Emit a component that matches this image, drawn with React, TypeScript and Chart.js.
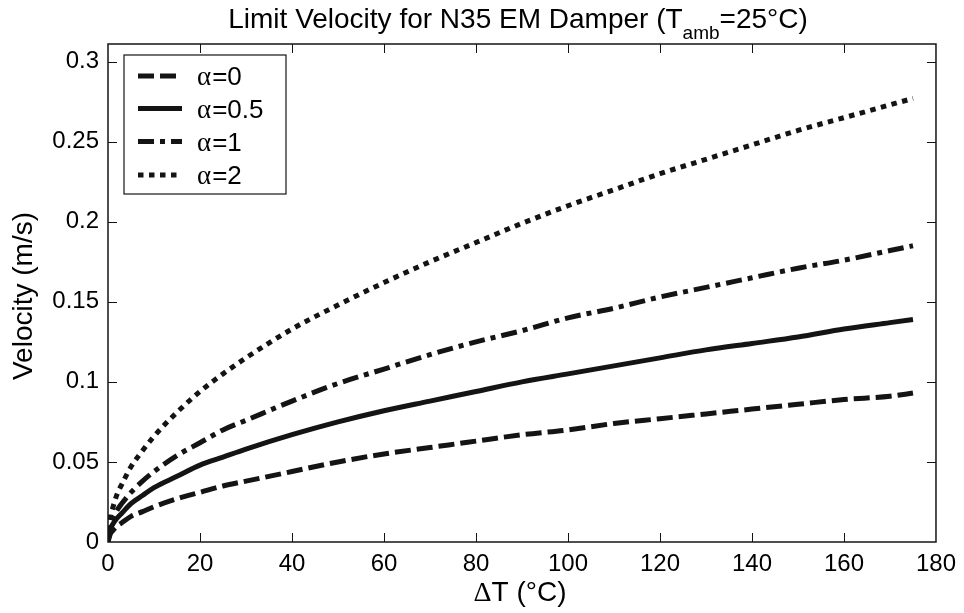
import React, { useEffect, useRef } from "react";
import { Chart, registerables } from "chart.js";

Chart.register(...registerables);

// ---- data ----
const DELTA_T = [0, 0.5, 1, 2, 3, 5, 7.5, 10, 15, 20, 25, 30, 40, 50, 60, 70, 80, 90, 100, 110, 120, 130, 140, 150, 160, 170, 175];
const ALPHA_0 = [0, 0.005, 0.007, 0.010, 0.012, 0.016, 0.019, 0.022, 0.027, 0.031, 0.035, 0.038, 0.044, 0.050, 0.055, 0.059, 0.063, 0.067, 0.070, 0.074, 0.077, 0.080, 0.083, 0.086, 0.089, 0.091, 0.093];
const ALPHA_05 = [0, 0.008, 0.011, 0.015, 0.018, 0.024, 0.029, 0.034, 0.041, 0.048, 0.053, 0.058, 0.067, 0.075, 0.082, 0.088, 0.094, 0.100, 0.105, 0.110, 0.115, 0.120, 0.124, 0.128, 0.133, 0.137, 0.139];
const ALPHA_1 = [0, 0.010, 0.014, 0.020, 0.024, 0.031, 0.038, 0.044, 0.054, 0.062, 0.070, 0.076, 0.088, 0.099, 0.108, 0.117, 0.125, 0.132, 0.140, 0.146, 0.153, 0.159, 0.165, 0.171, 0.176, 0.182, 0.185];
const ALPHA_2 = [0, 0.015, 0.021, 0.030, 0.036, 0.047, 0.057, 0.066, 0.081, 0.094, 0.105, 0.115, 0.133, 0.148, 0.162, 0.175, 0.187, 0.199, 0.210, 0.220, 0.230, 0.239, 0.248, 0.257, 0.265, 0.273, 0.277];

const SERIES_LABELS = ["α=0", "α=0.5", "α=1", "α=2"];
const X_TICKS = [0, 20, 40, 60, 80, 100, 120, 140, 160, 180];
const Y_TICKS = [0, 0.05, 0.1, 0.15, 0.2, 0.25, 0.3];

const TITLE_MAIN = "Limit Velocity for N35 EM Damper (T";
const TITLE_SUB = "amb";
const TITLE_END = "=25°C)";
const X_LABEL_SYMBOL = "Δ";
const X_LABEL_REST = "T (°C)";
const Y_LABEL = "Velocity (m/s)";

const SANS = '"Liberation Sans", Arial, sans-serif';
const SERIF = '"Liberation Serif", "Times New Roman", serif';
const INK = "#141414";

const DASHES = [[16, 6], [], [16, 6, 5, 6], [5.5, 5.5]];
const SERIES = [ALPHA_0, ALPHA_05, ALPHA_1, ALPHA_2];

const decorPlugin = {
  id: "decor",
  afterDraw(chart: any) {
    const ctx = chart.ctx as CanvasRenderingContext2D;
    const { left, right, top, bottom } = chart.chartArea;
    const xs = chart.scales.x;
    const ys = chart.scales.y;
    ctx.save();

    // axes box
    ctx.strokeStyle = INK;
    ctx.lineWidth = 1.5;
    ctx.setLineDash([]);
    ctx.strokeRect(left, top, right - left, bottom - top);

    // inward ticks
    ctx.lineWidth = 1;
    const tl = 9;
    ctx.beginPath();
    X_TICKS.forEach((v) => {
      const px = Math.round(xs.getPixelForValue(v)) + 0.5;
      if (px <= left + 1 || px >= right - 1) return;
      ctx.moveTo(px, bottom);
      ctx.lineTo(px, bottom - tl);
      ctx.moveTo(px, top);
      ctx.lineTo(px, top + tl);
    });
    Y_TICKS.forEach((v) => {
      const py = Math.round(ys.getPixelForValue(v)) + 0.5;
      if (py <= top + 1 || py >= bottom - 1) return;
      ctx.moveTo(left, py);
      ctx.lineTo(left + tl, py);
      ctx.moveTo(right, py);
      ctx.lineTo(right - tl, py);
    });
    ctx.stroke();

    // title
    ctx.fillStyle = "#000";
    ctx.textBaseline = "alphabetic";
    ctx.textAlign = "left";
    const mainFont = `28px ${SANS}`;
    const subFont = `19px ${SANS}`;
    ctx.font = mainFont;
    const w1 = ctx.measureText(TITLE_MAIN).width;
    const w3 = ctx.measureText(TITLE_END).width;
    ctx.font = subFont;
    const w2 = ctx.measureText(TITLE_SUB).width;
    let tx = 518 - (w1 + w2 + w3) / 2;
    ctx.font = mainFont;
    ctx.fillText(TITLE_MAIN, tx, 28);
    tx += w1;
    ctx.font = subFont;
    ctx.fillText(TITLE_SUB, tx, 39);
    tx += w2;
    ctx.font = mainFont;
    ctx.fillText(TITLE_END, tx, 28);

    // x label
    ctx.font = `28px ${SERIF}`;
    const ws = ctx.measureText(X_LABEL_SYMBOL).width;
    ctx.font = `28px ${SANS}`;
    const wr = ctx.measureText(X_LABEL_REST).width;
    let lx = 520 - (ws + wr) / 2;
    ctx.font = `28px ${SERIF}`;
    ctx.fillText(X_LABEL_SYMBOL, lx, 601);
    ctx.font = `28px ${SANS}`;
    ctx.fillText(X_LABEL_REST, lx + ws, 601);

    // y label
    ctx.save();
    ctx.translate(31.5, 296);
    ctx.rotate(-Math.PI / 2);
    ctx.textAlign = "center";
    ctx.font = `28px ${SANS}`;
    ctx.fillText(Y_LABEL, 0, 0);
    ctx.restore();

    // legend
    const bx = 124, by = 55, bw = 162, bh = 139;
    ctx.fillStyle = "#fff";
    ctx.fillRect(bx, by, bw, bh);
    ctx.strokeStyle = INK;
    ctx.lineWidth = 1.2;
    ctx.strokeRect(bx, by, bw, bh);
    const rows = [76, 108.5, 141.5, 175];
    chart.data.datasets.forEach((ds: any, i: number) => {
      const ry = rows[i];
      ctx.save();
      ctx.strokeStyle = ds.borderColor;
      ctx.lineWidth = ds.borderWidth;
      ctx.lineCap = "butt";
      ctx.setLineDash(ds.borderDash || []);
      ctx.beginPath();
      ctx.moveTo(138, ry);
      ctx.lineTo(182, ry);
      ctx.stroke();
      ctx.restore();
      const label: string = ds.label;
      ctx.fillStyle = "#000";
      ctx.font = `27px ${SERIF}`;
      const a = label.slice(0, 1);
      const wa = ctx.measureText(a).width;
      ctx.fillText(a, 197, ry + 9);
      ctx.font = `26px ${SANS}`;
      ctx.fillText(label.slice(1), 197 + wa + 1, ry + 9);
    });

    ctx.restore();
  },
};

export default function App() {
  const ref = useRef<HTMLCanvasElement | null>(null);

  useEffect(() => {
    document.body.style.margin = "0";
    if (!ref.current) return;
    const chart = new Chart(ref.current, {
      type: "line",
      data: {
        datasets: SERIES.map((vals, i) => ({
          label: SERIES_LABELS[i],
          data: DELTA_T.map((x, j) => ({ x, y: vals[j] })),
          borderColor: INK,
          borderWidth: 5,
          borderDash: DASHES[i],
          borderCapStyle: "butt",
          borderJoinStyle: "round",
          pointRadius: 0,
          fill: false,
          cubicInterpolationMode: "monotone",
        })),
      },
      options: {
        animation: false,
        responsive: false,
        maintainAspectRatio: false,
        layout: { padding: { top: 44, right: 23, left: 0, bottom: 0 } },
        plugins: {
          legend: { display: false },
          title: { display: false },
          tooltip: { enabled: false },
        },
        scales: {
          x: {
            type: "linear",
            min: 0,
            max: 180,
            afterBuildTicks: (s: any) => {
              s.ticks = X_TICKS.map((v) => ({ value: v }));
            },
            afterFit: (s: any) => {
              s.height = 71;
            },
            grid: { display: false, drawTicks: false },
            border: { display: false },
            ticks: {
              color: "#000",
              font: { family: SANS, size: 24 },
              padding: 8,
              maxRotation: 0,
              autoSkip: false,
              callback: (v: any) => String(v),
            },
          },
          y: {
            type: "linear",
            min: 0,
            max: 0.311,
            afterBuildTicks: (s: any) => {
              s.ticks = Y_TICKS.map((v) => ({ value: v }));
            },
            afterFit: (s: any) => {
              s.width = 108;
            },
            grid: { display: false, drawTicks: false },
            border: { display: false },
            ticks: {
              color: "#000",
              font: { family: SANS, size: 24 },
              padding: 9,
              autoSkip: false,
              callback: (v: any) => String(+Number(v).toFixed(3)),
            },
          },
        },
      },
      plugins: [decorPlugin],
    } as any);
    return () => chart.destroy();
  }, []);

  return (
    <div style={{ position: "absolute", left: 0, top: 0, width: 964, height: 613, background: "#fff" }}>
      <canvas ref={ref} width={964} height={613} style={{ width: 964, height: 613, display: "block" }} />
    </div>
  );
}
